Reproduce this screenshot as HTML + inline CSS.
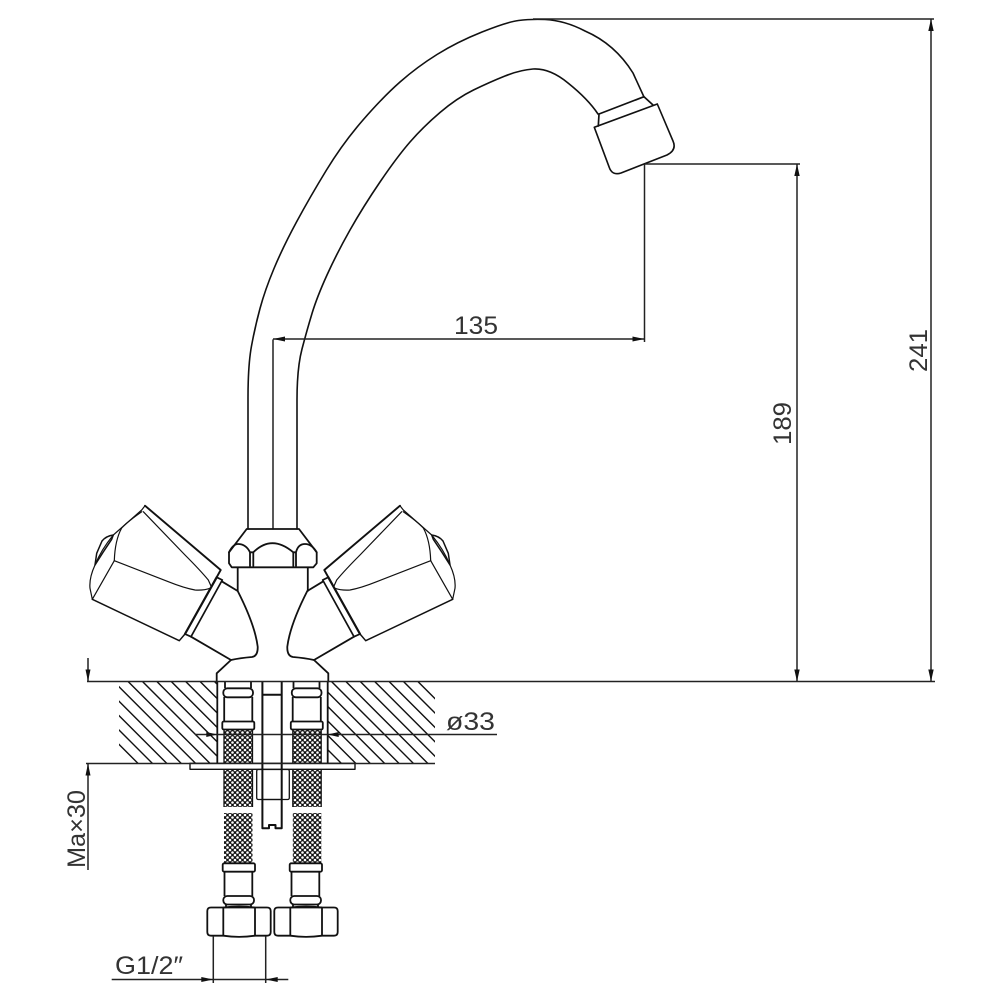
<!DOCTYPE html>
<html><head><meta charset="utf-8"><style>
html,body{margin:0;padding:0;background:#fff;width:1000px;height:1000px;overflow:hidden}
svg{display:block}
text{font-family:"Liberation Sans",sans-serif;font-size:25px;fill:#333}
</style></head><body>
<svg width="1000" height="1000" viewBox="0 0 1000 1000" xmlns="http://www.w3.org/2000/svg">
<defs>
<pattern id="mesh" width="5" height="5" patternUnits="userSpaceOnUse">
<rect width="5" height="5" fill="#111"/>
<circle cx="0" cy="0" r="1.300" fill="#fff"/><circle cx="5" cy="0" r="1.300" fill="#fff"/>
<circle cx="0" cy="5" r="1.300" fill="#fff"/><circle cx="5" cy="5" r="1.300" fill="#fff"/>
<circle cx="2.500" cy="2.500" r="1.300" fill="#fff"/>
</pattern>
<clipPath id="h1"><rect x="119" y="682" width="98" height="81"/></clipPath>
<clipPath id="h2"><rect x="328" y="682" width="107" height="81"/></clipPath>
<g id="tube">
<path d="M225 681V688M251 681V688M224.200 697V721M252.300 697V721" />
<rect x="223.300" y="688.300" width="29.700" height="9" rx="4"/>
<rect x="222.300" y="721.500" width="32" height="8" rx="1.500"/>
</g>
<g id="lower">
<rect x="222.700" y="863.300" width="32.300" height="8.400" rx="1.500"/>
<path d="M224.500 871.700V896M252.300 871.700V896M226 904.500V907.300M251 904.500V907.300"/>
<rect x="223.300" y="896" width="30.700" height="8.500" rx="4"/>
<path d="M211 907.500H267Q270.700 907.500 270.700 911V932Q270.700 935.700 267 935.700H255Q239 938 223.300 935.700H211Q207.300 935.700 207.300 932V911Q207.300 907.500 211 907.500Z"/>
<path d="M223.300 907.500V935.700M255 907.500V935.700M223.300 907.500Q239 905.500 255 907.500"/>
</g>
<g id="handle" fill="none" stroke="#111" stroke-linejoin="round" stroke-linecap="round">
<path d="M145 505.700L220.700 570L213.300 583.300" stroke-width="1.900"/>
<path d="M92.300 599.300L179.300 640.700L185 634" stroke-width="1.500"/>
<path d="M145 505.700L141.700 510L113.300 535Q101 550 95 565Q89 578 90 588.300L92.300 599.300L114.300 560.700" stroke-width="1.200"/>
<path d="M141.700 511.700Q127 522 121.700 528Q115 540 114.300 560.700" stroke-width="1.200"/>
<path d="M114.300 560.700L168.300 581.700Q184 588 195 590Q204 590.500 210 588.300" stroke-width="1.200"/>
<path d="M143.300 511.700L185 555Q200 570 208.300 580L211 586" stroke-width="1.200"/>
<path d="M113.300 535Q106 536 102 541L96.700 553.300L95 565Q103 552 111.700 539.300L113.300 535Z" stroke-width="1.500"/>
<path d="M216.700 577.300L222.300 580L191 636.700L185 634Z" stroke-width="1.700"/>
<path d="M216.700 577.300L185 634" stroke-width="2.200"/>
<path d="M222.300 581.700L237.700 591Q255 625 257.700 646.700Q258 656 252 657Q240 658 231 660L191 636.700" stroke-width="1.800"/>
<path d="M231 660L216.700 673.300V681.500" stroke-width="1.800"/>
</g>
</defs>

<!-- hatching -->
<g stroke="#111" stroke-width="1.400" fill="none">
<g clip-path="url(#h1)">
<path d="M56.300 681.700l100 100M70.700 681.700l100 100M85.100 681.700l100 100M99.500 681.700l100 100M113.900 681.700l100 100M128.300 681.700l100 100M142.700 681.700l100 100M157.100 681.700l100 100M171.500 681.700l100 100M185.900 681.700l100 100M200.300 681.700l100 100M214.700 681.700l100 100"/>
</g>
<g clip-path="url(#h2)">
<path d="M245.300 681.700l100 100M259.700 681.700l100 100M274.100 681.700l100 100M288.500 681.700l100 100M302.900 681.700l100 100M317.300 681.700l100 100M331.700 681.700l100 100M346.100 681.700l100 100M360.500 681.700l100 100M374.900 681.700l100 100M389.300 681.700l100 100M403.700 681.700l100 100M418.100 681.700l100 100"/>
</g>
</g>

<!-- mesh -->
<g>
<rect x="224" y="730" width="28.500" height="33.500" fill="url(#mesh)"/>
<rect x="224" y="769.500" width="28.500" height="37.500" fill="url(#mesh)"/>
<rect x="224" y="813" width="28.500" height="50" fill="url(#mesh)"/>
<rect x="292.800" y="730" width="28.500" height="33.500" fill="url(#mesh)"/>
<rect x="292.800" y="769.500" width="28.500" height="37.500" fill="url(#mesh)"/>
<rect x="292.800" y="813" width="28.500" height="50" fill="url(#mesh)"/>
</g>

<!-- faucet -->
<g fill="none" stroke="#111" stroke-width="1.600" stroke-linejoin="round" stroke-linecap="round">
<!-- spout -->
<path d="M248 529V398Q248 365 251.500 346Q255 327 260 308.500Q265 290 274 268.500Q283 247 296.500 222Q310 197 326.500 170Q343 143 363 120Q383 97 400 82Q417 67 437 54.500Q457 42 482 32Q507 22 518.500 20.500Q530 19 545 19.500Q565 20.500 585 31Q615 44 633 73L644 97"/>
<path d="M297 529V400Q297 368 302 349Q307 330 312 313.500Q317 297 327 275Q337 253 350 230Q363 207 380 182Q397 157 410 142Q423 127 440 112.500Q457 98 473.500 90Q490 82 505 76Q520 70 533 69Q550 68 568 83Q588 99 598 114"/>
<path d="M273 340V529" stroke-width="1.400"/>
<!-- aerator -->
<path d="M599 114L644 96.700L653 105M599 114L598.300 126" stroke-width="1.700"/>
<path d="M657.300 104L594.300 127.300L609 166.700Q612 176 621 173L667 155Q677 150 673 141Z"/>
<!-- nut -->
<path d="M246.700 529H299L316.700 552.300V563.300L313.300 567.300H231.700L229 563.300V552.300Z" stroke-width="1.800"/>
<path d="M229 552.300Q233 544 238 544Q246 544 250 552.300V566M316.700 552.300Q312 544 305 544Q298 544 296 552.300V566M253.300 552.300V566M293.300 552.300V566M253.300 552.300Q271.700 534 293.300 552.300M250 552.300H253.300M293.300 552.300H296" stroke-width="1.800"/>
<path d="M237.700 567.500V591M307.800 567.500V591" stroke-width="1.800"/>
</g>
<use href="#handle"/>
<use href="#handle" transform="translate(545 0) scale(-1 1)"/>

<!-- under counter -->
<g fill="#fff" stroke="#111" stroke-width="1.800" stroke-linejoin="round">
<path d="M217.300 681.500V763M327.700 681.500V763" fill="none"/>
<rect x="190" y="763.300" width="165" height="6" stroke-width="1.400"/>
<g fill="none"><use href="#tube"/><use href="#tube" x="68.500"/></g>
<g fill="none">
<rect x="256.700" y="769.500" width="32.600" height="30" rx="1.500" stroke-width="1.300"/>
<path d="M262.400 681.500V828.300H269V825H275.500V828.300H281.700V681.500M262.400 694.700H281.700" stroke-width="2"/>
<path d="M262.400 799.500H281.700" stroke-width="1.300"/>
</g>
<g fill="none"><path d="M224 729.500V763M252.500 729.500V763M292.800 729.500V763M321.200 729.500V763M224 769.300V807M252.500 769.300V807M292.800 769.300V807M321.200 769.300V807" stroke-width="1.300"/></g>
<g fill="none"><use href="#lower"/></g>
<g fill="none"><use href="#lower" x="67"/></g>
</g>

<!-- dimensions -->
<g fill="none" stroke="#222" stroke-width="1.500">
<path d="M533 19H934M931 19V682M645 164H800M797 164V682M644.500 164V342M273 339H644.500M87 681.500H935M86 763.500H435M88 658V681.500M88 763.500V870M195 734.500H497M111.700 979.500H288.300M213.300 936V983M265.700 936V983"/>
</g>
<g fill="#111" stroke="none">
<path d="M931 19l-2.700 12h5.400zM931 681.500l-2.700 -12h5.400z"/>
<path d="M797 164l-2.700 12h5.400zM797 681.500l-2.700 -12h5.400z"/>
<path d="M273 339l12 -2.500v5zM644.500 339l-12 -2.500v5z"/>
<path d="M88 681.500l-2.500 -12h5zM88 763.500l-2.500 12h5z"/>
<path d="M217.300 734.500l-11 -2.500v5zM327.700 734.500l11 -2.500v5z"/>
<path d="M213.300 979.500l-12 -2.500v5zM265.700 979.500l12 -2.500v5z"/>
</g>

<!-- labels -->
<text x="454" y="334" textLength="44" lengthAdjust="spacingAndGlyphs">135</text>
<text transform="translate(927 372) rotate(-90)" textLength="43" lengthAdjust="spacingAndGlyphs">241</text>
<text transform="translate(791 445) rotate(-90)" textLength="43" lengthAdjust="spacingAndGlyphs">189</text>
<text x="446" y="730" textLength="49" lengthAdjust="spacingAndGlyphs">ø33</text>
<text transform="translate(85 868) rotate(-90)" textLength="78" lengthAdjust="spacingAndGlyphs">Ma×30</text>
<text x="115" y="974" font-size="23" textLength="68" lengthAdjust="spacingAndGlyphs">G1/2″</text>
</svg>
</body></html>
